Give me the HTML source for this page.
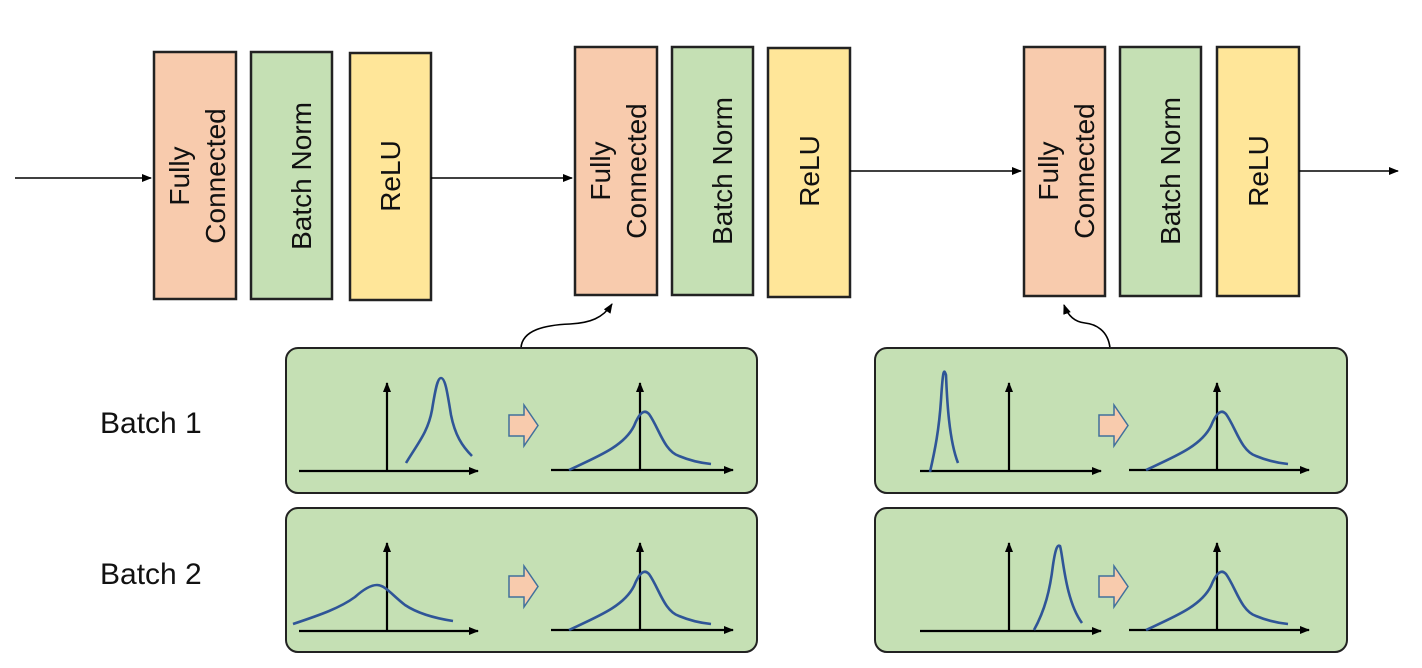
<!DOCTYPE html>
<html><head><meta charset="utf-8"><style>html,body{margin:0;padding:0;background:#fff}svg{display:block}</style></head><body>
<svg width="1422" height="668" viewBox="0 0 1422 668" xmlns="http://www.w3.org/2000/svg" font-family="'Liberation Sans', 'DejaVu Sans', sans-serif">
<defs>
<marker id="ah" markerWidth="10" markerHeight="8" refX="9" refY="4" orient="auto" markerUnits="userSpaceOnUse"><path d="M0,0 L10,4 L0,8 Z" fill="#000"/></marker>
<g id="bell"><path d="M0,64 C30,50 55,40 65,20 Q73,0 80,8 C90,22 95,45 110,50 C122,55 132,57 142,58" fill="none" stroke="#2f5597" stroke-width="2.6"/></g>
<g id="barrow"><path d="M0,10 L15,10 L15,0 L29,20.5 L15,41 L15,31 L0,31 Z" fill="#f8cbad" stroke="#41719c" stroke-width="1.5"/></g>
</defs>
<g stroke="#222" stroke-width="2.5">
<rect x="154" y="52" width="82" height="247" fill="#f8cbad"/>
<rect x="251" y="52" width="81" height="247" fill="#c5e0b4"/>
<rect x="350" y="53" width="81" height="247" fill="#ffe699"/>
<rect x="575" y="47" width="82" height="248" fill="#f8cbad"/>
<rect x="672" y="47" width="81" height="248" fill="#c5e0b4"/>
<rect x="768" y="48" width="82" height="249" fill="#ffe699"/>
<rect x="1024" y="47" width="81" height="249" fill="#f8cbad"/>
<rect x="1120" y="47" width="81" height="249" fill="#c5e0b4"/>
<rect x="1217" y="47" width="82" height="249" fill="#ffe699"/>
</g>
<g font-size="28" fill="#111" text-anchor="middle">
<text transform="translate(195,176) rotate(-90)"><tspan x="0" y="-6">Fully</tspan><tspan x="0" y="30">Connected</tspan></text>
<text transform="translate(301,176) rotate(-90)" dy="10">Batch Norm</text>
<text transform="translate(390,176) rotate(-90)" dy="10">ReLU</text>
<text transform="translate(616,171) rotate(-90)"><tspan x="0" y="-6">Fully</tspan><tspan x="0" y="30">Connected</tspan></text>
<text transform="translate(722,171) rotate(-90)" dy="10">Batch Norm</text>
<text transform="translate(809,171) rotate(-90)" dy="10">ReLU</text>
<text transform="translate(1064,171) rotate(-90)"><tspan x="0" y="-6">Fully</tspan><tspan x="0" y="30">Connected</tspan></text>
<text transform="translate(1170,171) rotate(-90)" dy="10">Batch Norm</text>
<text transform="translate(1258,171) rotate(-90)" dy="10">ReLU</text>
</g>
<g stroke="#000" stroke-width="1.6" fill="none">
<line x1="15" y1="178" x2="151" y2="178" marker-end="url(#ah)"/>
<line x1="431" y1="178" x2="572" y2="178" marker-end="url(#ah)"/>
<line x1="850" y1="171" x2="1021" y2="171" marker-end="url(#ah)"/>
<line x1="1299" y1="171" x2="1398" y2="171" marker-end="url(#ah)"/>
<path d="M521,348 C522,330 545,325 570,324 C590,323 603,318 612,304" marker-end="url(#ah)"/>
<path d="M1110,348 C1108,330 1095,324 1085,323 C1075,322 1068,316 1064,305" marker-end="url(#ah)"/>
</g>
<g fill="#c5e0b4" stroke="#222" stroke-width="2">
<rect x="286" y="348" width="471" height="145" rx="12"/>
<rect x="286" y="508" width="471" height="144" rx="12"/>
<rect x="875" y="348" width="472" height="145" rx="12"/>
<rect x="875" y="508" width="472" height="144" rx="12"/>
</g>
<g font-size="30" fill="#111"><text x="100" y="433">Batch 1</text><text x="100" y="584">Batch 2</text></g>
<g stroke="#000" stroke-width="2.2" fill="none">
<line x1="299" y1="471" x2="478" y2="471" marker-end="url(#ah)"/><line x1="387" y1="471" x2="387" y2="383" marker-end="url(#ah)"/>
<line x1="551" y1="470" x2="733" y2="470" marker-end="url(#ah)"/><line x1="640" y1="470" x2="640" y2="383" marker-end="url(#ah)"/>
<line x1="299" y1="631" x2="478" y2="631" marker-end="url(#ah)"/><line x1="387" y1="631" x2="387" y2="543" marker-end="url(#ah)"/>
<line x1="551" y1="630" x2="733" y2="630" marker-end="url(#ah)"/><line x1="640" y1="630" x2="640" y2="543" marker-end="url(#ah)"/>
<line x1="920" y1="471" x2="1101" y2="471" marker-end="url(#ah)"/><line x1="1009" y1="471" x2="1009" y2="383" marker-end="url(#ah)"/>
<line x1="1129" y1="470" x2="1309" y2="470" marker-end="url(#ah)"/><line x1="1217" y1="470" x2="1217" y2="383" marker-end="url(#ah)"/>
<line x1="920" y1="631" x2="1101" y2="631" marker-end="url(#ah)"/><line x1="1009" y1="631" x2="1009" y2="543" marker-end="url(#ah)"/>
<line x1="1129" y1="630" x2="1309" y2="630" marker-end="url(#ah)"/><line x1="1217" y1="630" x2="1217" y2="543" marker-end="url(#ah)"/>
</g>
<g stroke="#2f5597" stroke-width="2.6" fill="none">
<path d="M406,463 C418,443 428,432 432,410 C436,385 438,378 441,378 C445,378 447,390 451,415 C455,435 462,446 472,456"/>
<path d="M930,472 C935,450 939,430 941,400 C943,368 944,369 946,375 C947,400 949,440 958,463"/>
<path d="M293,624 C320,615 340,608 355,597 C365,588 372,585 377,585 C385,585 392,595 405,605 C420,615 440,619 453,621"/>
<path d="M1034,630 C1045,610 1050,590 1053,565 C1056,545 1058,545 1060,546 C1063,555 1065,600 1082,623"/>
</g>
<use href="#bell" x="569" y="406"/>
<use href="#bell" x="569" y="566"/>
<use href="#bell" x="1146" y="406"/>
<use href="#bell" x="1146" y="566"/>
<use href="#barrow" x="509" y="405"/>
<use href="#barrow" x="509" y="566"/>
<use href="#barrow" x="1099" y="405"/>
<use href="#barrow" x="1099" y="566"/>
</svg>
</body></html>
